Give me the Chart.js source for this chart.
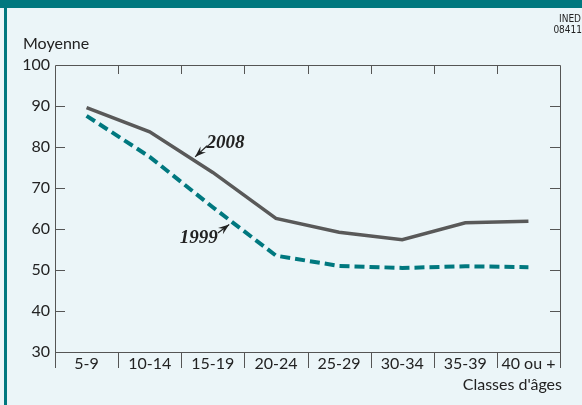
<!DOCTYPE html>
<html>
<head>
<meta charset="utf-8">
<script src="https://cdn.jsdelivr.net/npm/chart.js@4/dist/chart.umd.min.js"></script>
<style>
  html, body { margin: 0; padding: 0; background: #ebf5f8; }
  canvas { display: block; }
</style>
</head>
<body>
<canvas id="ageChart" width="582" height="405"></canvas>
<script>
const ageLabels = ['5-9', '10-14', '15-19', '20-24', '25-29', '30-34', '35-39', '40 ou +'];
const values2008 = [89.6, 83.7, 73.8, 62.6, 59.2, 57.4, 61.5, 61.9];
const values1999 = [87.6, 77.6, 65.3, 53.5, 51.0, 50.5, 50.9, 50.7];
const yTicks = [30, 40, 50, 60, 70, 80, 90, 100];

// callouts: text position and arrow, in category index / value units
const callouts = [
  { text: '2008', tx: 1.90, ty: 81.0, align: 'left', from: [1.91, 80.3], to: [1.72, 77.6] },
  { text: '1999', tx: 2.08, ty: 57.8, align: 'right', from: [2.08, 59.0], to: [2.26, 61.1] },
];

const TEAL = '#00787f';
const AXIS = '#555555';
const tickFont = { family: 'Lato, "DejaVu Sans", sans-serif', size: 16 };

const framePlugin = {
  id: 'frame',
  beforeDraw(chart) {
    const ctx = chart.ctx;
    ctx.save();
    ctx.fillStyle = '#ebf5f8';
    ctx.fillRect(0, 0, chart.width, chart.height);
    ctx.fillStyle = TEAL;
    ctx.fillRect(0, 0, chart.width, 8);
    ctx.fillRect(4, 0, 3, chart.height);
    ctx.restore();
  },
  afterDraw(chart) {
    const ctx = chart.ctx;
    const a = chart.chartArea;
    const xs = chart.scales.x;
    const ys = chart.scales.y;
    const step = (xs.getPixelForValue(1) - xs.getPixelForValue(0));
    ctx.save();
    ctx.strokeStyle = AXIS;
    ctx.lineWidth = 1;
    ctx.beginPath();
    ctx.rect(Math.round(a.left) + 0.5, Math.round(a.top) + 0.5,
      Math.round(a.right - a.left), Math.round(a.bottom - a.top));
    // category boundaries: outward below, inward on top
    for (let i = 0; i <= ageLabels.length; i++) {
      const x = Math.round(xs.getPixelForValue(i) - step / 2) + 0.5;
      ctx.moveTo(x, a.bottom);
      ctx.lineTo(x, a.bottom + 16);
      if (i > 0 && i < ageLabels.length) {
        ctx.moveTo(x, a.top);
        ctx.lineTo(x, a.top + 9);
      }
    }
    // inward ticks on left and right
    yTicks.forEach(v => {
      if (v === yTicks[0] || v === yTicks[yTicks.length - 1]) return;
      const y = Math.round(ys.getPixelForValue(v)) + 0.5;
      ctx.moveTo(a.left, y);
      ctx.lineTo(a.left + 10, y);
      ctx.moveTo(a.right - 10, y);
      ctx.lineTo(a.right, y);
    });
    ctx.stroke();

    // axis titles and source
    ctx.fillStyle = '#222';
    ctx.font = '16px Lato, "DejaVu Sans", sans-serif';
    ctx.textBaseline = 'middle';
    ctx.textAlign = 'left';
    ctx.fillText('Moyenne', 23, 44);
    ctx.textAlign = 'right';
    ctx.fillText("Classes d'âges", a.right + 2, 385);
    ctx.font = '10px "Liberation Sans Narrow", "DejaVu Sans Condensed", sans-serif';
    ctx.fillText('INED', 581, 19);
    ctx.fillText('08411', 582, 30);

    // callouts
    callouts.forEach(c => {
      const px = v => xs.getPixelForValue(0) + v * step;
      const fx = px(c.from[0]), fy = ys.getPixelForValue(c.from[1]);
      const hx = px(c.to[0]), hy = ys.getPixelForValue(c.to[1]);
      ctx.strokeStyle = '#222';
      ctx.fillStyle = '#222';
      ctx.lineWidth = 1.2;
      ctx.beginPath();
      ctx.moveTo(fx, fy);
      ctx.lineTo(hx, hy);
      ctx.stroke();
      const ang = Math.atan2(hy - fy, hx - fx);
      ctx.beginPath();
      ctx.moveTo(hx, hy);
      ctx.lineTo(hx - 11 * Math.cos(ang) + 4 * Math.sin(ang), hy - 11 * Math.sin(ang) - 4 * Math.cos(ang));
      ctx.lineTo(hx - 7 * Math.cos(ang), hy - 7 * Math.sin(ang));
      ctx.lineTo(hx - 11 * Math.cos(ang) - 4 * Math.sin(ang), hy - 11 * Math.sin(ang) + 4 * Math.cos(ang));
      ctx.closePath();
      ctx.fill();
      ctx.font = 'italic bold 19px "Liberation Serif", "DejaVu Serif", serif';
      ctx.textAlign = c.align;
      ctx.fillText(c.text, px(c.tx), ys.getPixelForValue(c.ty));
    });
    ctx.restore();
  }
};

new Chart(document.getElementById('ageChart'), {
  type: 'line',
  data: {
    labels: ageLabels,
    datasets: [
      {
        label: '1999',
        data: values1999,
        borderColor: TEAL,
        borderWidth: 4,
        borderDash: [10, 5],
        pointRadius: 0,
        fill: false,
      },
      {
        label: '2008',
        data: values2008,
        borderColor: '#595959',
        borderWidth: 3.5,
        pointRadius: 0,
        fill: false,
      },
    ],
  },
  options: {
    responsive: false,
    animation: false,
    layout: { padding: { top: 65, right: 22, left: 0, bottom: 0 } },
    plugins: {
      legend: { display: false },
      tooltip: { enabled: false },
    },
    scales: {
      x: {
        offset: true,
        border: { display: false },
        grid: { display: false, drawTicks: false },
        ticks: { color: '#222', font: tickFont, padding: 2, maxRotation: 0, autoSkip: false },
        afterFit: s => { s.height = 53; },
      },
      y: {
        min: 30,
        max: 100,
        border: { display: false },
        grid: { display: false, drawTicks: false },
        ticks: { stepSize: 10, color: '#222', font: tickFont, padding: 5 },
        afterFit: s => { s.width = 55; },
      },
    },
  },
  plugins: [framePlugin],
});
</script>
</body>
</html>
